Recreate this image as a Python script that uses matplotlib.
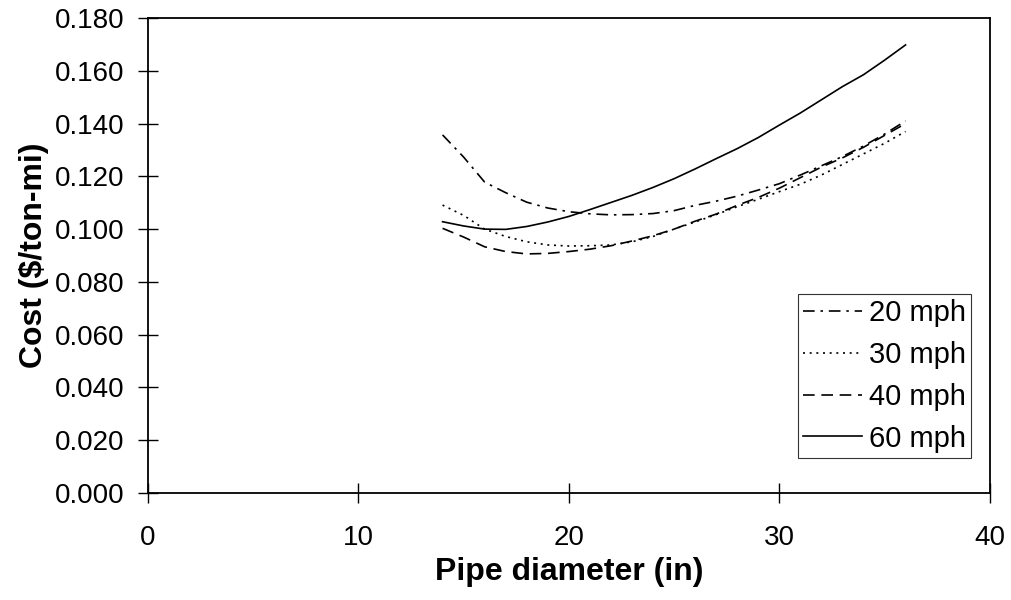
import numpy as np
import matplotlib
matplotlib.use("Agg")
import matplotlib.pyplot as plt

plt.rcParams['font.family'] = ['Liberation Sans', 'DejaVu Sans']

# pipe diameter (in)
diameter = [14, 15, 16, 17, 18, 19, 20, 21, 22, 23, 24, 25,
            26, 27, 28, 29, 30, 31, 32, 33, 34, 35, 36]

# cost ($/ton-mi) for each speed
cost_20 = [0.1357, 0.1273, 0.1178, 0.1138, 0.1102, 0.1080, 0.1066, 0.1058,
           0.1054, 0.1055, 0.1059, 0.1070, 0.1090, 0.1106, 0.1125, 0.1148,
           0.1172, 0.1205, 0.1240, 0.1275, 0.1315, 0.1360, 0.1410]
cost_30 = [0.1091, 0.1052, 0.1000, 0.0972, 0.0952, 0.0940, 0.0936, 0.0937,
           0.0940, 0.0952, 0.0972, 0.1000, 0.1027, 0.1055, 0.1085, 0.1113,
           0.1142, 0.1170, 0.1205, 0.1245, 0.1285, 0.1325, 0.1370]
cost_40 = [0.1003, 0.0970, 0.0933, 0.0915, 0.0906, 0.0908, 0.0915, 0.0924,
           0.0937, 0.0955, 0.0975, 0.1000, 0.1030, 0.1057, 0.1090, 0.1120,
           0.1155, 0.1195, 0.1235, 0.1270, 0.1310, 0.1355, 0.1400]
cost_60 = [0.1028, 0.1012, 0.1000, 0.0999, 0.1010, 0.1027, 0.1048, 0.1074,
           0.1101, 0.1128, 0.1158, 0.1191, 0.1228, 0.1267, 0.1305, 0.1347,
           0.1394, 0.1440, 0.1490, 0.1540, 0.1585, 0.1640, 0.1698]

labels = ['20 mph', '30 mph', '40 mph', '60 mph']

#%%
fig = plt.figure(figsize=(10.12, 6), dpi=100)
ax = fig.add_axes([0.1462, 0.1783, 0.8318, 0.7917])

lw = 1.2
ax.plot(diameter, cost_20, color='black', lw=lw, dashes=(7, 3.5, 1.5, 3.5), label=labels[0])
ax.plot(diameter, cost_30, color='black', lw=lw, dashes=(1.2, 2.8), label=labels[1])
ax.plot(diameter, cost_40, color='black', lw=lw, dashes=(7, 4), label=labels[2])
ax.plot(diameter, cost_60, color='black', lw=lw, label=labels[3])

ax.set_xlim(0, 40)
ax.set_ylim(0, 0.18)
ax.set_xticks(np.arange(0, 41, 10))
ax.set_yticks(np.arange(0, 0.181, 0.02))
ax.yaxis.set_major_formatter(matplotlib.ticker.FormatStrFormatter('%.3f'))

ax.tick_params(direction='inout', length=14, width=1, labelsize=20, color='black')
ax.tick_params(axis='y', pad=10)
ax.tick_params(axis='x', pad=16)
for s in ax.spines.values():
    s.set_linewidth(1.3)
    s.set_color('black')

ax.set_xlabel('Pipe diameter (in)', fontsize=23, fontweight='bold', labelpad=4)
ax.set_ylabel('Cost ($/ton-mi)', fontsize=23, fontweight='bold', labelpad=4)

leg = ax.legend(loc='lower right', bbox_to_anchor=(0.978, 0.074), borderaxespad=0,
                fontsize=21, frameon=True, fancybox=False, handlelength=2.0,
                handletextpad=0.25, labelspacing=0.47, borderpad=0.18)
leg.get_frame().set_edgecolor('black')
leg.get_frame().set_linewidth(0.8)

fig.savefig('out.png', dpi=100)
